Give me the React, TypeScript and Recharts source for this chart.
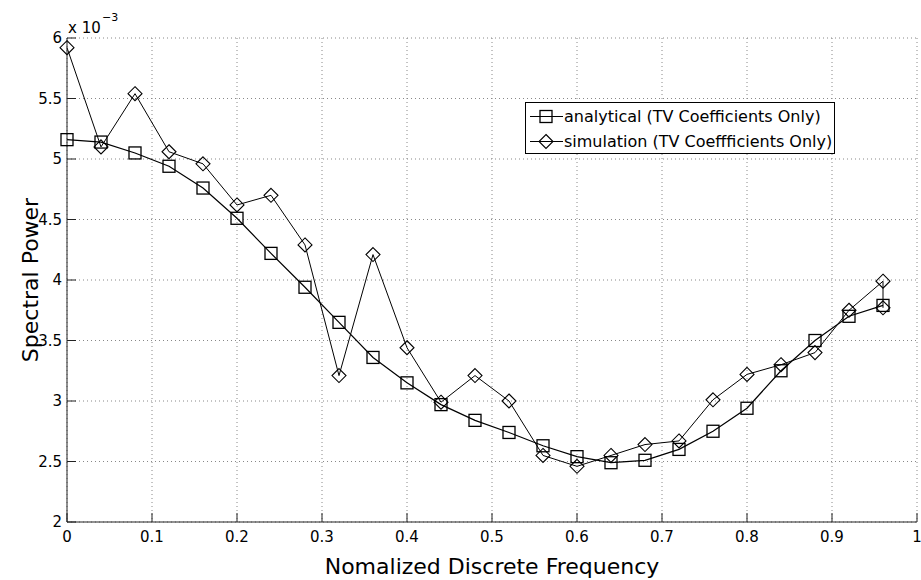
import { LineChart, Line, XAxis, YAxis, CartesianGrid, Legend, Customized } from "recharts";

// normalised frequency bins
const freq = [0, 0.04, 0.08, 0.12, 0.16, 0.2, 0.24, 0.28, 0.32, 0.36, 0.4, 0.44, 0.48, 0.52, 0.56, 0.6, 0.64, 0.68, 0.72, 0.76, 0.8, 0.84, 0.88, 0.92, 0.96];
// spectral power, units of 1e-3
const analytical = [5.16, 5.14, 5.05, 4.94, 4.76, 4.51, 4.22, 3.94, 3.65, 3.36, 3.15, 2.97, 2.84, 2.74, 2.63, 2.54, 2.49, 2.51, 2.6, 2.75, 2.94, 3.25, 3.5, 3.7, 3.79];
// simulation has one extra sample sitting on the last bin
const simFreq = [...freq, 0.96];
const simulation = [5.92, 5.1, 5.54, 5.06, 4.96, 4.62, 4.7, 4.29, 3.21, 4.21, 3.44, 2.99, 3.21, 3.0, 2.55, 2.46, 2.55, 2.64, 2.67, 3.01, 3.22, 3.3, 3.4, 3.75, 3.99, 3.77];

const xTicks = [0, 0.1, 0.2, 0.3, 0.4, 0.5, 0.6, 0.7, 0.8, 0.9, 1];
const yTicks = [2, 2.5, 3, 3.5, 4, 4.5, 5, 5.5, 6];

const analyticalData = freq.map((x, i) => ({ x, y: analytical[i] }));
const simulationData = simFreq.map((x, i) => ({ x, y: simulation[i] }));

const FONT = "DejaVu Sans";
const AXIS = "#222";

const Square = (p: any) => {
  if (p.cx == null || p.cy == null) return <g key={`sq-${p.index}`} />;
  return <rect key={`sq-${p.index}`} x={p.cx - 6} y={p.cy - 6} width={12} height={12} fill="none" stroke="#000" strokeWidth={1.3} />;
};

const Diamond = (p: any) => {
  if (p.cx == null || p.cy == null) return <g key={`dm-${p.index}`} />;
  const { cx, cy } = p;
  return <path key={`dm-${p.index}`} d={`M${cx},${cy - 7}L${cx + 7},${cy}L${cx},${cy + 7}L${cx - 7},${cy}Z`} fill="none" stroke="#000" strokeWidth={1.1} />;
};

const LegendBox = () => (
  <div style={{ width: 310, height: 52, boxSizing: "border-box", border: "1px solid #000", background: "#fff", paddingTop: 1, fontFamily: FONT, fontSize: 16, color: "#000", whiteSpace: "nowrap" }}>
    <div style={{ height: 25, display: "flex", alignItems: "center" }}>
      <svg width={38} height={25} style={{ flex: "none" }}>
        <line x1={4} y1={12.5} x2={37} y2={12.5} stroke="#000" />
        <rect x={14} y={6.5} width={12} height={12} fill="none" stroke="#000" strokeWidth={1.3} />
      </svg>
      <span>analytical (TV Coefficients Only)</span>
    </div>
    <div style={{ height: 25, display: "flex", alignItems: "center" }}>
      <svg width={38} height={25} style={{ flex: "none" }}>
        <line x1={4} y1={12.5} x2={37} y2={12.5} stroke="#000" />
        <path d="M20,5.5L27,12.5L20,19.5L13,12.5Z" fill="none" stroke="#000" strokeWidth={1.1} />
      </svg>
      <span>simulation (TV Coeffficients Only)</span>
    </div>
  </div>
);

const Labels = () => (
  <g fontFamily={FONT} fill="#000">
    <text x={68} y={33} fontSize={15}>
      x 10
    </text>
    <text x={102} y={21} fontSize={11}>
      −3
    </text>
    <text x={492} y={574} fontSize={22} textAnchor="middle">
      Nomalized Discrete Frequency
    </text>
    <text x={38} y={280} fontSize={22} textAnchor="middle" transform="rotate(-90 38 280)">
      Spectral Power
    </text>
  </g>
);

export default function App() {
  return (
    <div style={{ position: "absolute", left: 0, top: 0, background: "#fff", fontFamily: FONT }}>
      <LineChart width={921} height={580} margin={{ top: 38, right: 4, bottom: 0, left: 0 }}>
        <CartesianGrid stroke="#888" strokeDasharray="1 3" />
        <XAxis
          type="number"
          dataKey="x"
          domain={[0, 1]}
          ticks={xTicks}
          interval={0}
          height={58}
          stroke={AXIS}
          tickSize={-9}
          tickMargin={18}
          tick={{ fontSize: 15, fill: "#000", fontFamily: FONT }}
        />
        <XAxis xAxisId="top" orientation="top" type="number" domain={[0, 1]} ticks={xTicks} interval={0} height={0} stroke={AXIS} tickSize={-9} tick={false} />
        <YAxis
          type="number"
          domain={[2, 6]}
          ticks={yTicks}
          interval={0}
          width={67}
          stroke={AXIS}
          tickSize={-9}
          tickMargin={14}
          tick={{ fontSize: 15, fill: "#000", fontFamily: FONT }}
        />
        <YAxis yAxisId="right" orientation="right" type="number" domain={[2, 6]} ticks={yTicks} interval={0} width={0} stroke={AXIS} tickSize={-9} tick={false} />
        <Legend verticalAlign="middle" align="center" content={<LegendBox />} wrapperStyle={{ left: 525, top: 102, width: 310 }} />
        <Line data={analyticalData} dataKey="y" stroke="#000" strokeWidth={1.2} dot={Square} isAnimationActive={false} />
        <Line data={simulationData} dataKey="y" stroke="#000" strokeWidth={1} dot={Diamond} isAnimationActive={false} />
        <Customized component={Labels} />
      </LineChart>
    </div>
  );
}
